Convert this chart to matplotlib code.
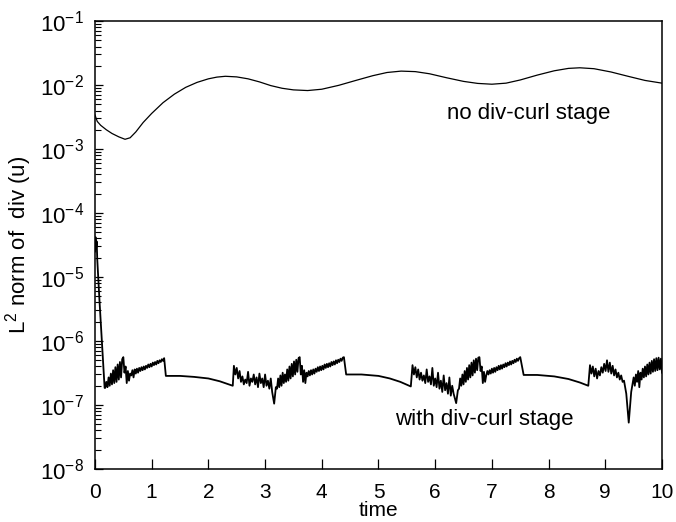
import numpy as np
import matplotlib
matplotlib.use("Agg")
import matplotlib.pyplot as plt
from matplotlib.ticker import LogLocator, NullFormatter

plt.rcParams['font.family'] = ['Liberation Sans', 'DejaVu Sans']
plt.rcParams['mathtext.fontset'] = 'custom'
plt.rcParams['mathtext.rm'] = 'Liberation Sans'
plt.rcParams['mathtext.it'] = 'Liberation Sans'

# no div-curl stage
upper_t = [0.0, 0.04, 0.1, 0.2, 0.3, 0.42, 0.53, 0.62, 0.72, 0.85, 1.0, 1.2,
           1.4, 1.6, 1.8, 2.0, 2.15, 2.3, 2.5, 2.7, 2.9, 3.1, 3.3, 3.5, 3.75,
           4.0, 4.3, 4.6, 4.9, 5.15, 5.4, 5.65, 5.9, 6.2, 6.5, 6.75, 7.0,
           7.25, 7.5, 7.8, 8.1, 8.35, 8.55, 8.8, 9.1, 9.4, 9.7, 10.0]
upper_v = [3.4e-3, 2.7e-3, 2.35e-3, 2.0e-3, 1.75e-3, 1.55e-3, 1.42e-3,
           1.5e-3, 1.85e-3, 2.6e-3, 3.6e-3, 5.3e-3, 7.2e-3, 9.2e-3, 1.1e-2,
           1.25e-2, 1.33e-2, 1.37e-2, 1.34e-2, 1.25e-2, 1.12e-2, 9.8e-3,
           8.9e-3, 8.4e-3, 8.2e-3, 8.6e-3, 9.9e-3, 1.18e-2, 1.4e-2, 1.57e-2,
           1.65e-2, 1.62e-2, 1.5e-2, 1.3e-2, 1.14e-2, 1.06e-2, 1.03e-2,
           1.07e-2, 1.2e-2, 1.43e-2, 1.67e-2, 1.82e-2, 1.86e-2, 1.8e-2,
           1.6e-2, 1.37e-2, 1.18e-2, 1.07e-2]

# with div-curl stage, runs of (t_start, t_end, values in units of 1e-7)
lower_runs = [
    (0.0, 0.04, [250, 420, 280, 360, 190]),
    (0.08, 0.17, [42, 9, 1.85]),
    (0.18, 0.50, [1.85, 2.3, 1.9, 2.7, 2.0, 3.1, 2.1, 3.5, 2.2, 3.9, 2.3,
                  4.3, 2.5, 4.7, 2.7, 5.2, 5.6]),
    (0.52, 0.62, [3.2, 4.0, 2.2, 3.4, 2.4, 3.1]),
    (0.64, 1.22, [2.9, 3.5, 2.7, 3.6, 3.1, 3.7, 3.2, 3.8, 3.4, 3.9, 3.5, 4.0,
                  3.6, 4.1, 3.8, 4.3, 3.9, 4.4, 4.0, 4.6, 4.2, 4.7, 4.3, 4.9,
                  4.5, 5.0, 4.7, 5.2, 4.9, 5.4]),
    (1.25, 1.25, [2.85]),
    (1.5, 2.0, [2.85, 2.75, 2.6]),
    (2.2, 2.43, [2.35, 2.0]),
    (2.45, 3.125, [4.1, 3.0, 3.8, 2.6, 3.4, 2.3, 2.8, 2.1, 2.5, 2.2, 3.3, 2.0,
                   2.6, 2.3, 3.0, 2.1, 2.7, 1.9, 3.1, 2.2, 2.6, 1.9, 3.0, 2.0,
                   2.4, 1.8, 2.6, 1.6]),
    (3.16, 3.19, [1.05, 1.9]),
    (3.21, 3.61, [1.8, 2.6, 1.9, 2.9, 2.0, 3.2, 2.2, 3.0, 2.3, 3.6, 2.4, 4.0,
                  2.6, 4.4, 2.8, 4.8, 3.0, 5.1, 3.3, 5.4, 5.6]),
    (3.63, 3.73, [3.0, 4.1, 2.3, 3.5, 2.2, 3.2]),
    (3.75, 4.39, [2.8, 3.4, 2.9, 3.5, 3.0, 3.6, 3.1, 3.7, 3.3, 3.9, 3.4, 4.0,
                  3.5, 4.1, 3.6, 4.3, 3.8, 4.4, 3.9, 4.5, 4.0, 4.7, 4.2, 4.8,
                  4.3, 5.0, 4.5, 5.1, 4.7, 5.3, 4.9, 5.5, 5.6]),
    (4.43, 4.43, [3.0]),
    (4.7, 5.0, [3.0, 2.85]),
    (5.2, 5.57, [2.6, 2.3, 1.95]),
    (5.60, 6.325, [4.2, 3.0, 3.9, 2.7, 3.6, 2.5, 3.2, 2.4, 2.9, 2.2, 3.6, 2.3,
                   2.8, 2.1, 3.8, 2.0, 2.6, 1.9, 3.2, 1.8, 2.4, 1.6, 2.9, 1.7,
                   2.2, 1.5, 2.7, 1.4, 2.0, 1.5]),
    (6.37, 6.40, [1.07, 1.7]),
    (6.42, 6.78, [1.8, 2.6, 2.0, 3.0, 2.1, 3.4, 2.3, 3.8, 2.5, 4.2, 2.7, 4.6,
                  2.9, 5.0, 3.2, 5.3, 3.5, 5.5, 5.6]),
    (6.80, 6.88, [3.4, 4.0, 2.2, 3.3, 2.3]),
    (6.90, 7.50, [2.9, 3.4, 3.0, 3.5, 3.1, 3.7, 3.2, 3.8, 3.3, 3.9, 3.5, 4.1,
                  3.6, 4.2, 3.7, 4.3, 3.9, 4.5, 4.0, 4.6, 4.2, 4.8, 4.3, 4.9,
                  4.5, 5.1, 4.7, 5.3, 4.9, 5.4, 5.6]),
    (7.56, 7.8, [2.95, 2.95]),
    (8.1, 8.35, [2.8, 2.55]),
    (8.55, 8.70, [2.25, 2.0]),
    (8.73, 9.33, [4.2, 3.1, 4.0, 2.8, 3.7, 2.6, 3.4, 2.9, 3.9, 3.2, 4.4, 3.4,
                  5.0, 3.3, 4.6, 3.1, 4.1, 2.9, 3.6, 2.7, 3.2, 2.5, 2.9, 2.3,
                  2.4]),
    (9.37, 9.5, [1.5, 0.53, 1.6, 2.7]),
    (9.52, 10.0, [2.0, 3.0, 2.3, 3.4, 1.9, 3.2, 2.5, 3.7, 2.7, 4.0, 2.8, 4.3,
                  3.0, 4.6, 3.1, 4.9, 3.3, 5.2, 3.4, 5.4, 3.5, 5.5, 3.6, 5.3,
                  3.2]),
]

lower_t = np.concatenate([np.linspace(a, b, len(v)) for a, b, v in lower_runs])
lower_v = np.concatenate([v for _, _, v in lower_runs]) * 1e-7

fig = plt.figure(figsize=(6.76, 5.22), dpi=100)
ax = fig.add_axes([0.1405, 0.1015, 0.8388, 0.8582])

ax.plot(upper_t, upper_v, color='black', lw=0.9)
ax.plot(lower_t, lower_v, color='black', lw=1.3)

ax.set_yscale('log')
ax.set_xlim(0, 10)
ax.set_ylim(1e-8, 1e-1)
ax.set_xticks(range(0, 11))
ax.yaxis.set_major_locator(LogLocator(base=10, numticks=10))
ax.yaxis.set_minor_locator(LogLocator(base=10, subs=np.arange(2, 10), numticks=10))
ax.yaxis.set_minor_formatter(NullFormatter())

ax.tick_params(axis='x', which='major', direction='in', length=7, width=0.9,
               labelsize=15, pad=10, top=False)
ax.tick_params(axis='y', which='major', direction='in', length=6, width=0.9,
               labelsize=16, pad=8, right=False)
ax.tick_params(axis='y', which='minor', direction='in', length=4, width=0.8,
               right=False)
for s in ax.spines.values():
    s.set_linewidth(1.1)

ax.set_xlabel('time', fontsize=15, labelpad=-1)
ax.set_ylabel('L$^2$ norm of  div (u)', fontsize=16, labelpad=4)

ax.text(6.2, 3.6e-3, 'no div-curl stage', fontsize=16, va='center', ha='left')
ax.text(5.29, 5.9e-8, 'with div-curl stage', fontsize=16, va='center', ha='left')

fig.savefig('out.png', dpi=100)
